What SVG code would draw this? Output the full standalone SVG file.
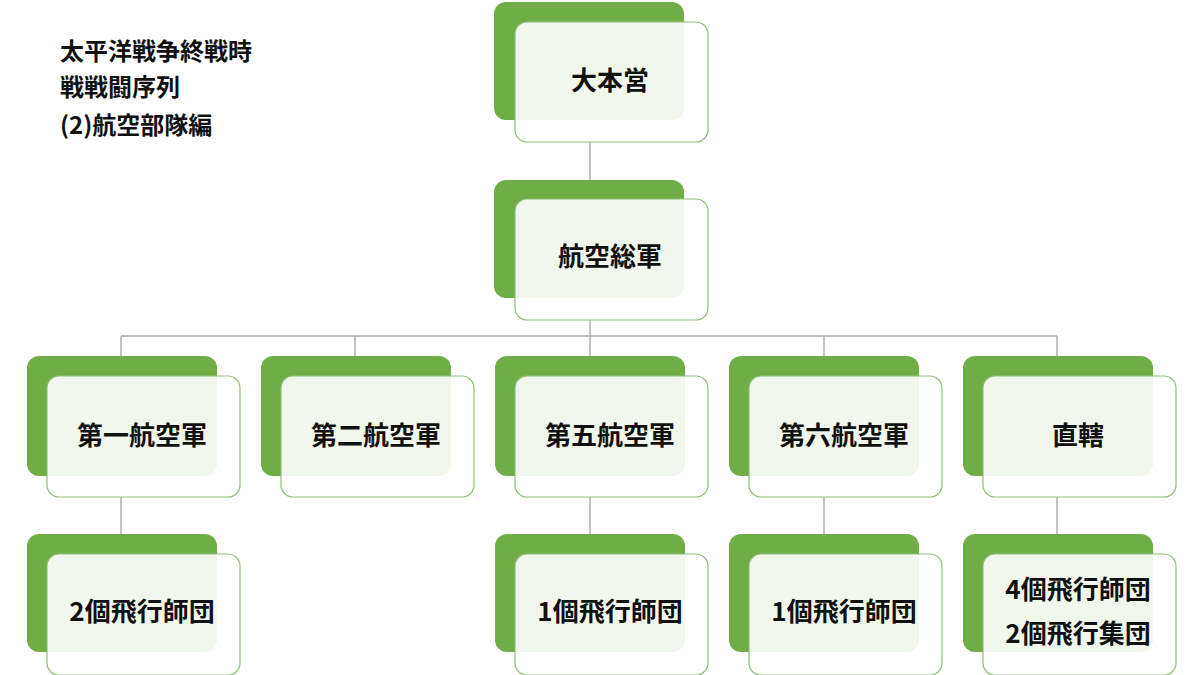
<svg xmlns="http://www.w3.org/2000/svg" width="1200" height="675" viewBox="0 0 1200 675">
<style>
.g{fill:#70ad47}
.f{fill:#ffffff;fill-opacity:0.9;stroke:#8fbf78;stroke-width:1.2}
.t{font-family:"Noto Sans CJK JP","Noto Sans",sans-serif;font-size:26px;font-weight:bold;fill:#111;text-anchor:middle}
.h{font-family:"Noto Sans CJK JP","Noto Sans",sans-serif;font-size:24px;font-weight:bold;fill:#111}
.c{stroke:#a6a6a6;stroke-width:1.3;fill:none}
</style>
<rect width="1200" height="675" fill="#fff"/>
<g id="title"><text class="h" x="60" y="60">太平洋戦争終戦時</text><text class="h" x="60" y="96">戦戦闘序列</text><text class="h" x="60" y="134">(2)航空部隊編</text></g>
<g id="connectors">
<path class="c" d="M590 142V180M590 320V336M121 336H1057M121 336V356M355 336V356M590 336V356M824 336V356M1057 336V356M121 497V534M590 497V534M824 497V534M1057 497V534"/>
</g>
<g id="n1"><rect class="g" x="494" y="2" width="190" height="118" rx="12"/><rect class="f" x="515" y="22" width="193" height="120" rx="12"/><text class="t" x="610" y="90">大本営</text></g>
<g id="n2"><rect class="g" x="494" y="180" width="190" height="118" rx="12"/><rect class="f" x="515" y="199" width="193" height="121" rx="12"/><text class="t" x="610" y="266">航空総軍</text></g>
<g id="n3"><rect class="g" x="27" y="356" width="190" height="120" rx="12"/><rect class="f" x="47" y="376" width="193" height="121" rx="12"/><text class="t" x="142" y="445">第一航空軍</text></g>
<g id="n4"><rect class="g" x="261" y="356" width="190" height="120" rx="12"/><rect class="f" x="281" y="376" width="193" height="121" rx="12"/><text class="t" x="376" y="445">第二航空軍</text></g>
<g id="n5"><rect class="g" x="495" y="356" width="190" height="120" rx="12"/><rect class="f" x="515" y="376" width="193" height="121" rx="12"/><text class="t" x="610" y="445">第五航空軍</text></g>
<g id="n6"><rect class="g" x="729" y="356" width="190" height="120" rx="12"/><rect class="f" x="749" y="376" width="193" height="121" rx="12"/><text class="t" x="844" y="445">第六航空軍</text></g>
<g id="n7"><rect class="g" x="963" y="356" width="190" height="120" rx="12"/><rect class="f" x="983" y="376" width="193" height="121" rx="12"/><text class="t" x="1078" y="445">直轄</text></g>
<g id="n8"><rect class="g" x="27" y="534" width="190" height="118" rx="12"/><rect class="f" x="47" y="554" width="193" height="121" rx="12"/><text class="t" x="142" y="621">2個飛行師団</text></g>
<g id="n9"><rect class="g" x="495" y="534" width="190" height="118" rx="12"/><rect class="f" x="515" y="554" width="193" height="121" rx="12"/><text class="t" x="610" y="621">1個飛行師団</text></g>
<g id="n10"><rect class="g" x="729" y="534" width="190" height="118" rx="12"/><rect class="f" x="749" y="554" width="193" height="121" rx="12"/><text class="t" x="844" y="621">1個飛行師団</text></g>
<g id="n11"><rect class="g" x="963" y="534" width="190" height="118" rx="12"/><rect class="f" x="983" y="554" width="193" height="121" rx="12"/><text class="t" x="1078" y="599">4個飛行師団</text><text class="t" x="1078" y="643">2個飛行集団</text></g>
</svg>
